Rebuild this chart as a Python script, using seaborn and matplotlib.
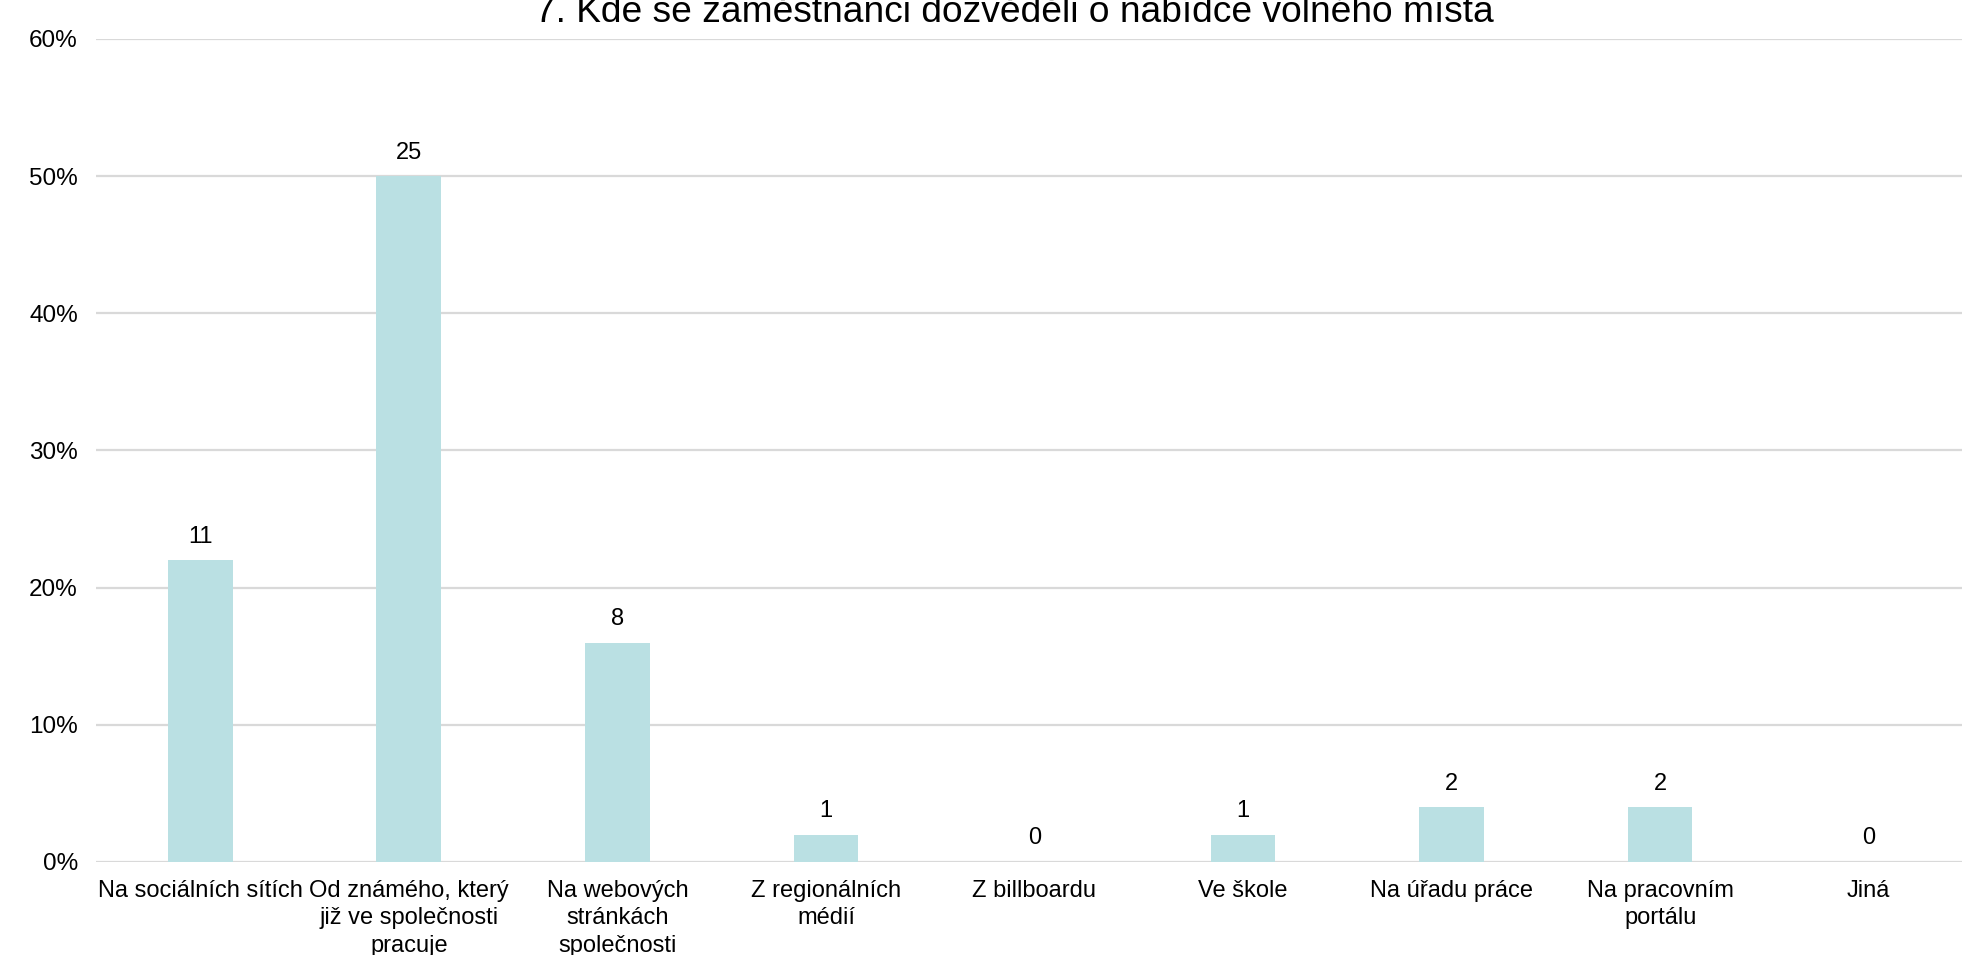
import matplotlib
matplotlib.use("Agg")
import matplotlib.pyplot as plt
import seaborn as sns
import pandas as pd
from matplotlib.ticker import PercentFormatter

title = "7. Kde se zaměstnanci dozvěděli o nabídce volného místa"
categories = [
    "Na sociálních sítích",
    "Od známého, který\njiž ve společnosti\npracuje",
    "Na webových\nstránkách\nspolečnosti",
    "Z regionálních\nmédií",
    "Z billboardu",
    "Ve škole",
    "Na úřadu práce",
    "Na pracovním\nportálu",
    "Jiná",
]
counts = [11, 25, 8, 1, 0, 1, 2, 2, 0]
percents = [22, 50, 16, 2, 0, 2, 4, 4, 0]
yticks = [0, 10, 20, 30, 40, 50, 60]

df = pd.DataFrame({"cat": categories, "pct": percents, "n": counts})

sns.set_theme(style="white")
plt.rcParams["font.family"] = ["Liberation Sans", "DejaVu Sans"]

fig = plt.figure(figsize=(19.62, 9.55), dpi=100)
ax = fig.add_axes([0.0489, 0.0974, 0.9567, 0.8618])

sns.barplot(data=df, x="cat", y="pct", color="#bae0e3", saturation=1,
            width=0.31, ax=ax, edgecolor="none")

ax.set_ylim(0, 60)
ax.set_yticks(yticks)
ax.yaxis.set_major_formatter(PercentFormatter(decimals=0))
ax.grid(axis="y", color="#d9d9d9", linewidth=1.6)
ax.set_axisbelow(True)
for s in ax.spines.values():
    s.set_visible(False)
ax.set_xlabel("")
ax.set_ylabel("")
ax.tick_params(axis="both", length=0, labelsize=17, colors="#000000")
ax.tick_params(axis="x", pad=13)
ax.tick_params(axis="y", labelsize=17.5, pad=13)
for lbl in ax.get_xticklabels():
    lbl.set_linespacing(1.32)

ax.bar_label(ax.containers[0], labels=[str(c) for c in counts],
             padding=9, fontsize=17, color="#000000")

fig.text(0.517, 0.977, title, ha="center", va="baseline", fontsize=26.7,
         color="#000000")

fig.savefig("out.png", dpi=100)
